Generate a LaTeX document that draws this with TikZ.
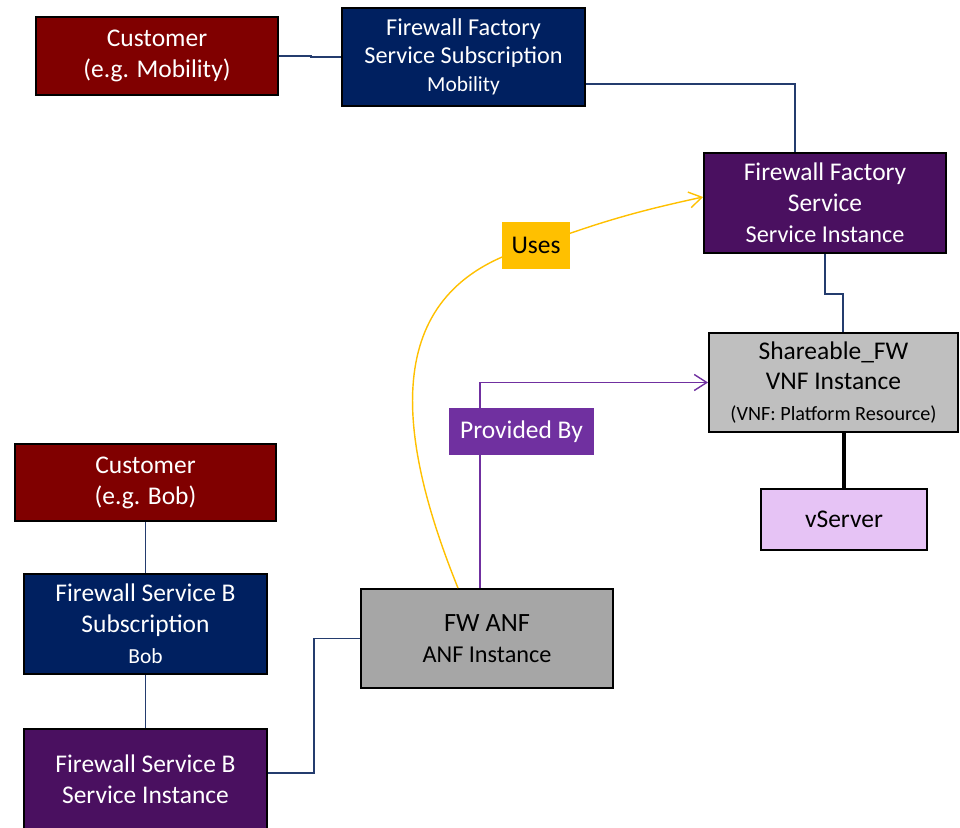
\documentclass[tikz,border=0pt]{standalone}
\usepackage{fontspec}
\setmainfont{Carlito}
\usetikzlibrary{arrows.meta,positioning}

\definecolor{custred}{RGB}{128,0,0}
\definecolor{subnavy}{RGB}{0,32,96}
\definecolor{svcpurple}{RGB}{74,16,96}
\definecolor{vnfgray}{RGB}{191,191,191}
\definecolor{anfgray}{RGB}{166,166,166}
\definecolor{vsrvlilac}{RGB}{230,195,245}
\definecolor{usesyellow}{RGB}{255,192,0}
\definecolor{provpurple}{RGB}{112,48,160}
\definecolor{linknavy}{RGB}{36,60,110}

\begin{document}
\begin{tikzpicture}[
	box/.style={rectangle, draw=black, line width=1.1pt, inner sep=0pt, align=center, font=\fontsize{14.5}{17.6}\selectfont},
	custbox/.style={box, fill=custred, text=white},
	subbox/.style={box, fill=subnavy, text=white},
	svcbox/.style={box, fill=svcpurple, text=white},
	resbox/.style={box, fill=vnfgray},
	anfbox/.style={box, fill=anfgray},
	srvbox/.style={box, fill=vsrvlilac},
	tag/.style={rectangle, inner sep=0pt, minimum height=0.94cm, font=\fontsize{14.5}{17.6}\selectfont},
	link/.style={linknavy, line width=0.8pt},
	relation/.style={line width=0.8pt, -{Straight Barb[length=2.5mm, width=3.2mm, line width=0.8pt]}},
	]
	
	\useasboundingbox (0,0) rectangle (19.2,16.54);
	
	% top customer
	\node[custbox, minimum width=4.84cm, minimum height=1.56cm] (cust1) at (3.14, 15.42) {Customer\\(e.g. Mobility)};
	\node[subbox, minimum width=4.86cm, minimum height=1.96cm, font=\fontsize{13.8}{15.9}\selectfont] (sub1) at (9.27, 15.40) {Firewall Factory\\Service Subscription\\{\fontsize{12.2}{15.9}\selectfont Mobility}};
	\node[svcbox, minimum width=4.84cm, minimum height=2cm] (svc1) at (16.50, 12.48) {Firewall Factory\\Service\\{\fontsize{13.8}{16}\selectfont Service Instance}};
	\node[resbox, minimum width=4.98cm, minimum height=1.98cm] (vnf) at (16.67, 8.89) {Shareable\_FW\\VNF Instance\\{\fontsize{11.5}{14}\selectfont (VNF: Platform Resource)}};
	\node[srvbox, minimum width=3.32cm, minimum height=1.22cm] (vserver) at (16.88, 6.15) {vServer};
	
	% bottom customer
	\node[custbox, minimum width=5.22cm, minimum height=1.54cm] (cust2) at (2.91, 6.89) {Customer\\(e.g. Bob)};
	\node[subbox, minimum width=4.86cm, minimum height=2cm] (sub2) at (2.91, 4.06) {Firewall Service B\\Subscription\\{\fontsize{12.2}{15}\selectfont Bob}};
	\node[svcbox, minimum width=4.86cm, minimum height=2cm] (svc2) at (2.91, 0.96) {Firewall Service B\\Service Instance};
	\node[anfbox, minimum width=5.04cm, minimum height=1.98cm] (anf) at (9.74, 3.77) {{\fontsize{15}{18}\selectfont FW ANF}\\{\fontsize{13.8}{16}\selectfont ANF Instance}};
	
	\draw[link] (cust1.east) -- ++(0.64,0) |- (sub1.west);
	\draw[link] ([yshift=-0.54cm]sub1.east) -| ([xshift=-0.6cm]svc1.north);
	\draw[link] (svc1.south) -- ++(0,-0.8) -| ([xshift=0.19cm]vnf.north);
	\draw[black, line width=2.2pt] ([xshift=0.21cm]vnf.south) -- (vserver.north);
	\draw[link] (cust2.south) -- (sub2.north);
	\draw[link] (sub2.south) -- (svc2.north);
	\draw[link] ([yshift=0.12cm]svc2.east) -- ++(0.92,0) |- (anf.west);
	
	% relations
	\draw[relation, provpurple] ([xshift=-0.14cm]anf.north) |- node[tag, pos=0.38, xshift=0.83cm, fill=provpurple, text=white, minimum width=2.9cm] (prov) {Provided By} (vnf.west);
	\draw[relation, usesyellow] ([xshift=-0.58cm]anf.north) .. controls (7.8,8.14) and (7.7,10.84) .. (10.72,11.63) node[tag, fill=usesyellow, text=black, minimum width=1.36cm] (uses) {Uses} to[bend left=4] ([yshift=0.12cm]svc1.west);
	
\end{tikzpicture}
\end{document}
